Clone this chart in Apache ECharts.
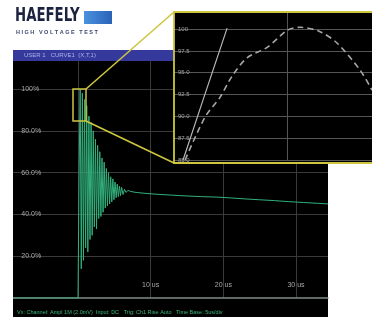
<!DOCTYPE html>
<html><head><meta charset="utf-8">
<script src="https://cdn.jsdelivr.net/npm/echarts@6/dist/echarts.min.js"></script>
<style>html,body{margin:0;padding:0;background:#fff}#c{width:372px;height:317px}</style>
</head><body><div id="c"></div>
<script>
// Main oscilloscope trace (time in us, value in % of peak)
const mainTime  = [-8.9, 0, 0.15, 0.3, 0.45, 0.6, 0.75, 0.9, 1.05, 1.2, 1.35, 1.5, 1.65, 1.8, 1.95, 2.1, 2.25, 2.4, 2.55, 2.7, 2.85, 3.0, 3.15, 3.3, 3.45, 3.6, 3.75, 3.9, 4.05, 4.2, 4.35, 4.5, 4.65, 4.8, 4.95, 5.1, 5.25, 5.4, 5.55, 5.7, 5.85, 6.0, 6.2, 6.4, 6.6, 6.9, 7.2, 8, 9.5, 11, 13, 15, 17, 19, 21, 23, 25, 27, 29, 31, 33, 34.4];
const mainValue = [0, 0, 60, 100, 14, 98, 18, 95, 24, 92, 22, 87, 28, 84, 30, 80, 34, 76, 33, 73, 38, 70, 39, 67, 41, 65, 43, 62, 44, 60, 45, 58, 46, 57, 47, 55.5, 48, 54.5, 48.5, 53.5, 49, 53, 49.5, 52, 50.5, 51.5, 51, 50.5, 50, 49.6, 49.2, 48.8, 48.5, 48.3, 47.9, 47.4, 47, 46.6, 46.1, 45.7, 45.3, 45];
const mainYLabels = ['', '20.0%', '40.0%', '60.0%', '80.0%', '100%'];
const mainXLabels = ['', '10 us', '20 us', '30 us'];

// Zoomed inset curves
const insetSolidX = [4, 13, 23.5];
const insetSolidY = [85, 92, 100.1];
const insetDashX = [4.9, 13.7, 20.4, 25.7, 32.3, 41.2, 50.4, 55.8, 64.6, 72.1, 82.3, 87.6];
const insetDashY = [85.0, 89.9, 92.2, 94.6, 96.7, 97.9, 99.9, 100.2, 99.7, 98.4, 95.3, 93.0];
const insetYLabels = ['85.0', '87.5', '90.0', '92.5', '95.0', '97.5', '100'];

const zip = (a, b) => a.map((v, i) => [v, b[i]]);
const chart = echarts.init(document.getElementById('c'), null, {renderer: 'canvas'});
const YEL = '#cdc63e';
const FONT = '"Liberation Sans", Arial, sans-serif';

const option = {
  animation: false,
  backgroundColor: '#ffffff',
  grid: [
    {left: 5.33, right: 44, top: 61, bottom: 19},
    {left: 174, right: 0, top: 12, bottom: 157}
  ],
  xAxis: [
    {gridIndex: 0, type: 'value', min: -10, max: 34.4, interval: 10,
     axisLine: {show: true, lineStyle: {color: '#7f8c86', width: 1.5}},
     axisTick: {show: false},
     splitLine: {show: true, showMinLine: false, showMaxLine: false, lineStyle: {color: '#3a3a3a'}},
     axisLabel: {inside: true, margin: 9, color: '#a8a8a8', fontSize: 7, fontFamily: FONT,
       showMinLabel: false, showMaxLabel: false,
       formatter: v => (v > 0 && mainXLabels[Math.round(v / 10)]) || ''}},
    {gridIndex: 1, type: 'value', min: 0, max: 87.6, interval: 50, z: 60,
     axisLine: {show: false}, axisTick: {show: false}, axisLabel: {show: false},
     splitLine: {show: true, showMinLine: false, showMaxLine: false, lineStyle: {color: '#555'}}}
  ],
  yAxis: [
    {gridIndex: 0, type: 'value', min: 0, max: 113.4, interval: 20,
     axisLine: {show: true, onZero: true, lineStyle: {color: '#3a3a3a'}},
     axisTick: {show: false},
     splitLine: {show: true, showMinLine: false, showMaxLine: false, lineStyle: {color: '#3a3a3a'}},
     axisLabel: {inside: true, margin: 16, color: '#a8a8a8', fontSize: 7, fontFamily: FONT,
       showMaxLabel: false,
       formatter: v => mainYLabels[Math.round(v / 20)] || ''}},
    {gridIndex: 1, type: 'value', min: 85, max: 101.95, interval: 2.5, z: 60,
     axisLine: {show: false}, axisTick: {show: false},
     splitLine: {show: true, showMinLine: true, showMaxLine: false, lineStyle: {color: '#555'}},
     axisLabel: {inside: true, margin: 4, color: '#a0a0a0', fontSize: 6, fontFamily: FONT,
       showMaxLabel: false,
       formatter: v => insetYLabels[Math.round((v - 85) / 2.5)] || ''}}
  ],
  series: [
    {type: 'line', xAxisIndex: 0, yAxisIndex: 0, data: zip(mainTime, mainValue),
     symbol: 'none', lineStyle: {color: '#33b07c', width: 1}, z: 5},
    {type: 'line', xAxisIndex: 1, yAxisIndex: 1, data: zip(insetSolidX, insetSolidY),
     symbol: 'none', lineStyle: {color: '#b8b8b8', width: 1.2}, z: 62},
    {type: 'line', xAxisIndex: 1, yAxisIndex: 1, data: zip(insetDashX, insetDashY),
     symbol: 'none', smooth: 0.3, lineStyle: {color: '#a8a8a8', width: 1.6, type: [6, 4]}, z: 62}
  ],
  graphic: [
    {type: 'rect', z: -10, shape: {x: 13, y: 50, width: 315, height: 267}, style: {fill: '#000'}},
    {type: 'rect', z: -9, shape: {x: 13, y: 50, width: 315, height: 11}, style: {fill: '#36399c'}},
    {type: 'text', z: -8, style: {text: 'USER 1   CURVE1  (X,T,1)', x: 24, y: 55.5, fill: '#aab2ea',
      font: '6px ' + FONT, verticalAlign: 'middle'}},
    {type: 'text', z: 40, style: {text: 'Vx: Channel: Ampl 1M (2.0mV)  Input: DC   Trig: Ch1 Rise Auto   Time Base: 5us/div',
      x: 17, y: 312, fill: '#39b97c', font: '5.5px ' + FONT, verticalAlign: 'middle'}},
    {type: 'rect', z: 40, shape: {x: 0, y: 45, width: 13, height: 272}, style: {fill: '#fff'}},
    {type: 'text', z: 40, x: 15, y: 7, scaleX: 0.7,
     style: {text: 'HAEFELY', x: 0, y: 0, fill: '#1c2340', font: 'bold 19px "DejaVu Sans", sans-serif', verticalAlign: 'top'}},
    {type: 'rect', z: 40, shape: {x: 84, y: 11, width: 28, height: 13},
     style: {fill: new echarts.graphic.LinearGradient(0, 0, 1, 0, [{offset: 0, color: '#4a92e0'}, {offset: 1, color: '#2a62b8'}])}},
    {type: 'text', z: 41, style: {text: 'H I G H   V O L T A G E   T E S T', x: 16, y: 32.5, fill: '#3a4670',
      font: 'bold 5.5px ' + FONT, verticalAlign: 'middle'}},
    {type: 'rect', z: 50, shape: {x: 174, y: 12, width: 198, height: 151}, style: {fill: '#000'}},
    {type: 'rect', z: 100, shape: {x: 73, y: 89, width: 13, height: 32}, style: {fill: 'none', stroke: YEL, lineWidth: 1.5}},
    {type: 'line', z: 100, shape: {x1: 86, y1: 89, x2: 174, y2: 12}, style: {stroke: YEL, lineWidth: 1.6}},
    {type: 'line', z: 100, shape: {x1: 86, y1: 121, x2: 174, y2: 163}, style: {stroke: YEL, lineWidth: 1.6}},
    {type: 'polyline', z: 100, shape: {points: [[372, 12], [174, 12], [174, 163], [372, 163]]},
     style: {fill: 'none', stroke: YEL, lineWidth: 1.8}}
  ]
};
chart.setOption(option);
</script>
</body></html>
